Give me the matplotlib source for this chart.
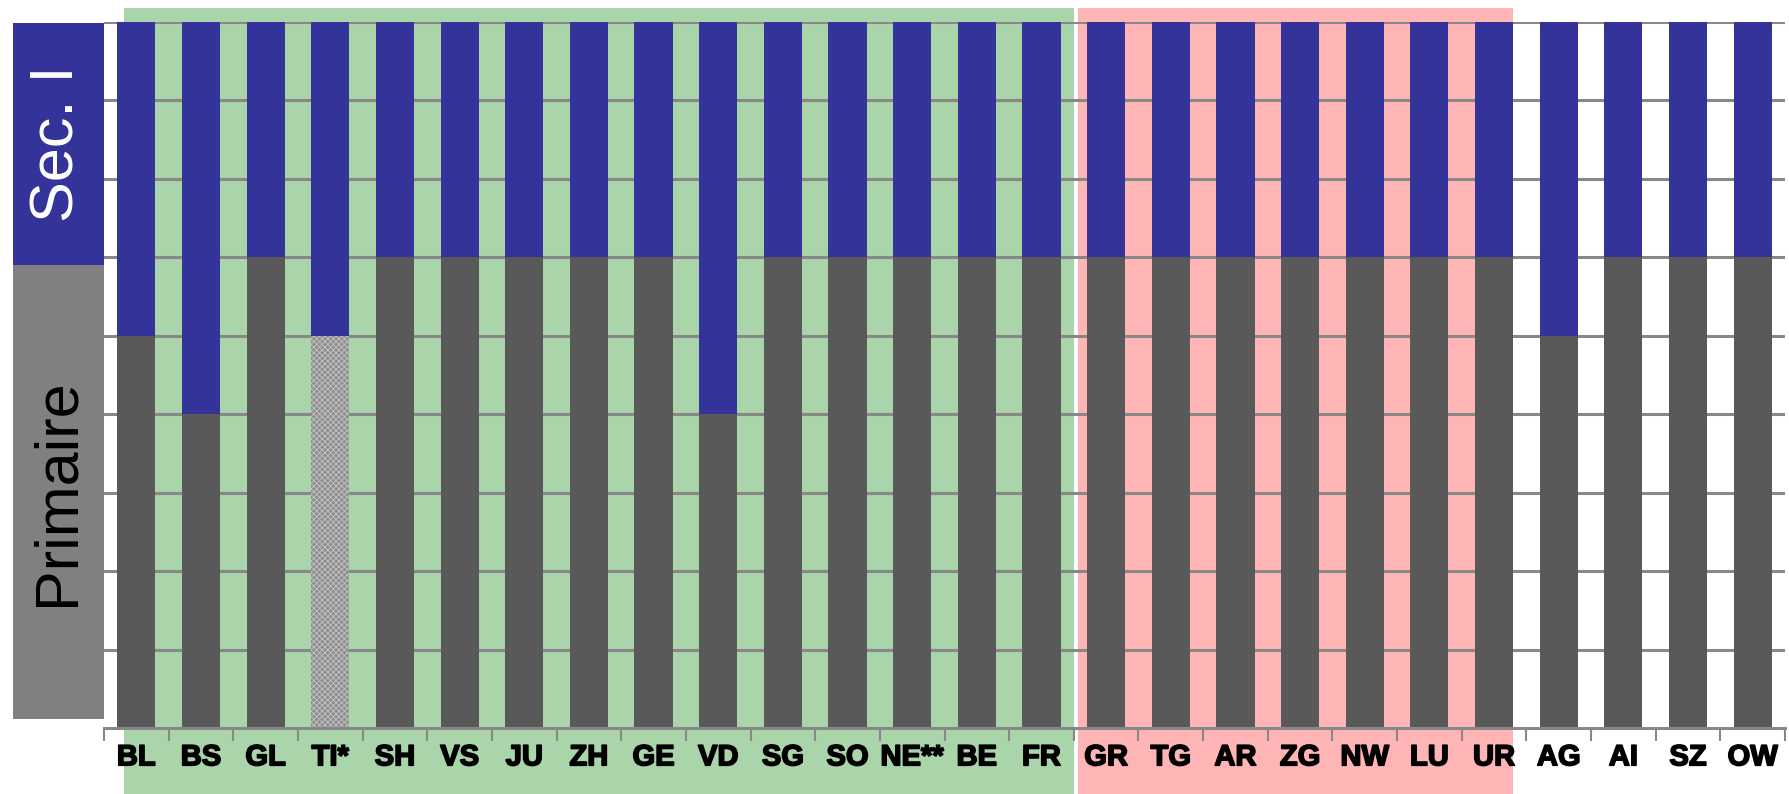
import numpy as np
import matplotlib
matplotlib.use('Agg')
import matplotlib.pyplot as plt
import matplotlib.patheffects as pe
from matplotlib.patches import Rectangle
from matplotlib.transforms import blended_transform_factory

plt.rcParams['font.family'] = ['Liberation Sans', 'DejaVu Sans']
plt.rcParams['hatch.linewidth'] = 0.6

cantons = ['BL', 'BS', 'GL', 'TI*', 'SH', 'VS', 'JU', 'ZH', 'GE', 'VD', 'SG', 'SO', 'NE**',
           'BE', 'FR', 'GR', 'TG', 'AR', 'ZG', 'NW', 'LU', 'UR', 'AG', 'AI', 'SZ', 'OW']
primaire = [5, 4, 6, 5, 6, 6, 6, 6, 6, 4, 6, 6, 6, 6, 6,
            6, 6, 6, 6, 6, 6, 6, 5, 6, 6, 6]
sec_i = [4, 5, 3, 4, 3, 3, 3, 3, 3, 5, 3, 3, 3, 3, 3,
         3, 3, 3, 3, 3, 3, 3, 4, 3, 3, 3]
hatched = ['TI*']
green_group = (-0.19, 14.5)
pink_group = (14.56, 21.3)

blue = '#333399'
dark = '#595959'

fig = plt.figure(figsize=(17.9, 7.94), dpi=100)
ax = fig.add_axes([104 / 1790, 1 - 728 / 794, (1785 - 104) / 1790, (728 - 22) / 794])
ax.patch.set_visible(False)

x = np.arange(len(cantons))
bars = ax.bar(x, primaire, width=0.59, color=dark, zorder=2)
for b, c in zip(bars, cantons):
    if c in hatched:
        b.set_facecolor('#8e8e8e')
        b.set_edgecolor('#c4c4c4')
        b.set_hatch('xxxxxx')
        b.set_linewidth(0)
ax.bar(x, sec_i, bottom=primaire, width=0.59, color=blue, zorder=2)

# group backgrounds (data x, figure y)
tr = blended_transform_factory(ax.transData, fig.transFigure)
for (x0, x1), col in [(green_group, '#aad4aa'), (pink_group, '#ffb5b5')]:
    ax.add_patch(Rectangle((x0, 0), x1 - x0, 1 - 8 / 794, transform=tr,
                           facecolor=col, edgecolor='none', clip_on=False, zorder=0.2))

ax.set_xlim(-0.5, len(cantons) - 0.5)
ax.set_ylim(0, 9)
ax.set_yticks(range(1, 10))
ax.yaxis.grid(True, color='#888888', linewidth=2.2)
ax.set_axisbelow(True)
ax.tick_params(axis='y', left=False, labelleft=False)

ax.set_xticks(x)
ax.set_xticklabels(cantons, fontsize=21, fontweight='bold')
for lbl in ax.get_xticklabels():
    lbl.set_path_effects([pe.withStroke(linewidth=1.2, foreground='black')])
ax.set_xticks(np.arange(-0.5, len(cantons)), minor=True)
ax.tick_params(axis='x', which='major', length=0, pad=11)
ax.tick_params(axis='x', which='minor', length=9, width=1.5, color='#888888', direction='out')

for s in ['top', 'right', 'left']:
    ax.spines[s].set_visible(False)
ax.spines['bottom'].set_color('#888888')
ax.spines['bottom'].set_linewidth(2.2)

# left side labels
bx0, bx1 = 13 / 1790, 104 / 1790
y_top, y_mid, y_bot = 1 - 23 / 794, 1 - 265 / 794, 1 - 719 / 794
fig.patches.append(Rectangle((bx0, y_mid), bx1 - bx0, y_top - y_mid, transform=fig.transFigure,
                             facecolor=blue, edgecolor='none'))
fig.patches.append(Rectangle((bx0, y_bot), bx1 - bx0, y_mid - y_bot, transform=fig.transFigure,
                             facecolor='#808080', edgecolor='none'))
fig.text((bx0 + bx1) / 2, (y_top + y_mid) / 2, 'Sec. I', rotation=90, color='white',
         fontsize=44, ha='center', va='center')
fig.text((bx0 + bx1) / 2, (y_mid + y_bot) / 2, 'Primaire', rotation=90, color='black',
         fontsize=44, ha='center', va='center')

fig.savefig('out.png', dpi=100)
